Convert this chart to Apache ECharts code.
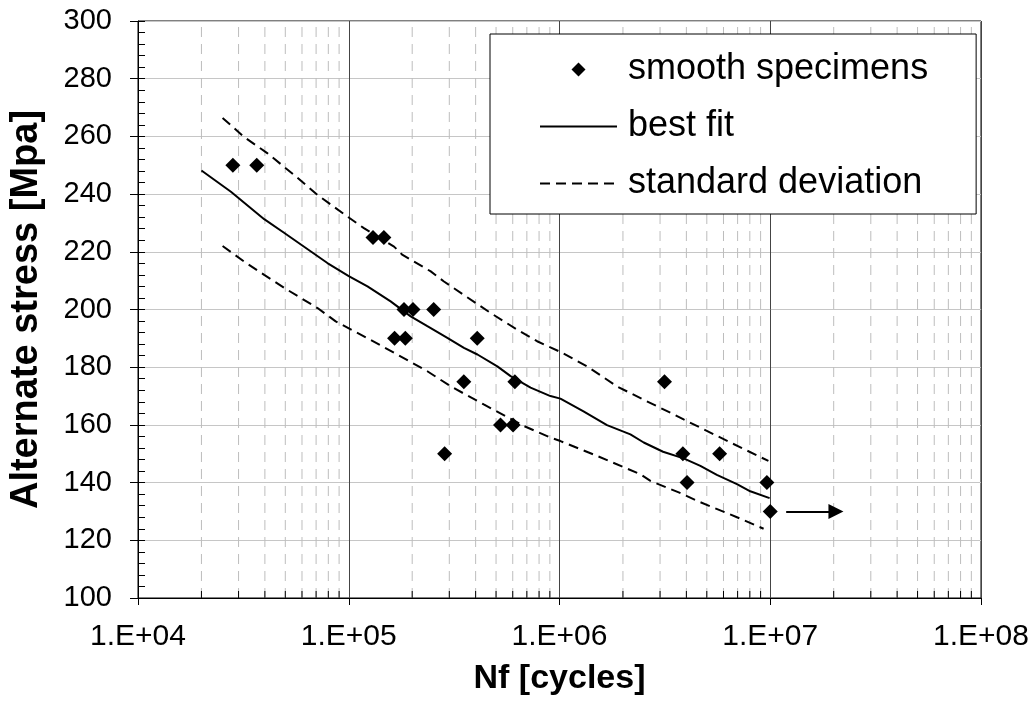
<!DOCTYPE html>
<html>
<head>
<meta charset="utf-8">
<script src="https://cdn.jsdelivr.net/npm/echarts@6/dist/echarts.min.js"></script>
<style>
  html, body { margin: 0; padding: 0; background: #fff; }
  #chart { width: 1033px; height: 701px; }
</style>
</head>
<body>
<div id="chart"></div>
<script>
// ---- data ----
const xTickLabels = ['1.E+04', '1.E+05', '1.E+06', '1.E+07', '1.E+08'];
const yTickValues = [100, 120, 140, 160, 180, 200, 220, 240, 260, 280, 300];

const smoothN = [28200, 36600, 130300, 146800, 182900, 201800, 252900, 165000, 185500, 407000,
                 351500, 614000, 3150000, 525000, 602000, 285000, 3850000, 5750000, 4030000, 9640000, 10000000];
const smoothS = [250, 250, 225, 225, 200, 200, 200, 190, 190, 190,
                 175, 175, 175, 160, 160, 150, 150, 150, 140, 140, 130];

const fitN = [20000, 27600, 39700, 49300, 79200, 100000, 122700, 158000, 196700, 236000,
              293600, 352000, 408000, 507000, 586000, 729000, 906000, 1010000, 1300000, 1680000,
              2170000, 2510000, 3100000, 3880000, 4660000, 5580000, 6950000, 8040000, 9930000];
const fitS = [248.2, 240.8, 231.3, 226.6, 216.1, 211.6, 208, 202.8, 197.6, 194.2,
              190.2, 186.7, 184.4, 180.3, 176.9, 172.9, 170, 169.1, 164.7, 159.9,
              156.7, 153.9, 150.7, 148.4, 145.8, 142.7, 139.5, 137, 134.6];

const upN = [25200, 31900, 41200, 55100, 71100, 98600, 118000, 164000, 180000, 245000,
             283000, 352000, 471000, 630000, 783000, 1010000, 1350000, 1880000, 2510000, 3360000,
             3880000, 6470000, 9800000];
const upS = [266.4, 259.8, 254.1, 246.6, 239.7, 232.2, 228.2, 221.8, 218.9, 213.2,
             209.7, 205, 198.8, 193, 189, 185.3, 180.3, 173.3, 168.7, 164.2,
             161.9, 153.9, 147.5];

const loN = [25200, 31900, 39700, 51200, 71100, 86700, 118000, 170000, 236000, 304000,
             437000, 678000, 906000, 1010000, 1480000, 2420000, 2700000, 3680000, 4660000, 6950000, 9300000];
const loS = [222, 216.6, 212, 206.8, 200.5, 195.9, 190.7, 184.4, 178.6, 173.4,
             167.1, 159.6, 155.6, 154.4, 149.5, 142.9, 140.6, 136.6, 133.2, 128, 124];

const arrowN = [11900000, 20500000];
const arrowS = [130, 130];

const minorDecades = [1e4, 1e5, 1e6, 1e7];
const minorMultipliers = [2, 3, 4, 5, 6, 7, 8, 9];

// ---- build ----
const FONT = 'Liberation Sans, Arial, sans-serif';
const zip = (a, b) => a.map((v, i) => [v, b[i]]);
const minorX = [];
minorDecades.forEach(d => minorMultipliers.forEach(m => minorX.push([d * m, 100])));

// small diamond centred in a 77x14 legend box (moveTo points keep the box size)
const legendDiamond = 'path://M0,0 M77,14 M31.5,7 L38.5,0 L45.5,7 L38.5,14 Z';

const chart = echarts.init(document.getElementById('chart'), null, { renderer: 'canvas' });

const option = {
  animation: false,
  backgroundColor: '#fff',
  grid: { left: 137, right: 52, top: 21, bottom: 101, show: true, borderColor: '#000', borderWidth: 1, containLabel: false },
  legend: {
    orient: 'vertical',
    left: 490, top: 34,
    padding: [15, 48, 10, 49],
    backgroundColor: '#fff',
    borderColor: '#000', borderWidth: 1,
    itemWidth: 77, itemHeight: 14, itemGap: 16,
    textStyle: { fontFamily: FONT, fontSize: 36, color: '#000', lineHeight: 41, padding: [0, 0, 0, 6] },
    data: [
      { name: 'smooth specimens', icon: legendDiamond, itemStyle: { color: '#000', opacity: 1 } },
      { name: 'best fit', itemStyle: { opacity: 0 } },
      { name: 'standard deviation', itemStyle: { opacity: 0 } }
    ]
  },
  xAxis: {
    type: 'log', logBase: 10, min: 1e4, max: 1e8,
    name: 'Nf [cycles]', nameLocation: 'middle', nameGap: 64,
    nameTextStyle: { fontFamily: FONT, fontSize: 34, fontWeight: 'bold', color: '#000' },
    axisLine: { show: true, lineStyle: { color: '#000', width: 1 } },
    axisTick: { show: true, inside: false, length: 7, lineStyle: { color: '#000' } },
    axisLabel: { fontFamily: FONT, fontSize: 30, color: '#000', margin: 24,
      formatter: v => xTickLabels[Math.round(Math.log10(v)) - 4] },
    splitLine: { show: true, lineStyle: { color: '#444', width: 1 } }
  },
  yAxis: [{
    type: 'value', min: 100, max: 300, interval: 20,
    name: 'Alternate stress [Mpa]', nameLocation: 'middle', nameGap: 92,
    nameTextStyle: { fontFamily: FONT, fontSize: 38, fontWeight: 'bold', color: '#000' },
    axisLine: { show: true, lineStyle: { color: '#000', width: 1 } },
    axisTick: { show: true, inside: false, length: 8, lineStyle: { color: '#000' } },
    axisLabel: { fontFamily: FONT, fontSize: 29, color: '#000', margin: 26,
      formatter: v => (yTickValues.indexOf(v) >= 0 ? String(v) : '') },
    splitLine: { show: true, lineStyle: { color: '#c6c6c6', width: 1 } }
  }, {
    type: 'value', min: 100, max: 300, interval: 20, position: 'left',
    axisLine: { show: false },
    axisTick: { show: true, inside: true, length: 7, lineStyle: { color: '#000' } },
    minorTick: { show: true, splitNumber: 5, length: 7, lineStyle: { color: '#000' } },
    axisLabel: { show: false },
    splitLine: { show: false }
  }],
  series: [
    {
      type: 'custom',
      name: 'minor',
      silent: true,
      z: 1,
      data: minorX,
      renderItem: (params, api) => {
        const v = api.value(0);
        const p0 = api.coord([v, 100]);
        const p1 = api.coord([v, 300]);
        return {
          type: 'group',
          children: [
            { type: 'line', shape: { x1: p0[0], y1: p0[1], x2: p1[0], y2: p1[1] },
              style: { stroke: '#bdbdbd', lineWidth: 1, lineDash: [10, 7] } },
            { type: 'line', shape: { x1: p0[0], y1: p0[1], x2: p0[0], y2: p0[1] - 7 },
              style: { stroke: '#000', lineWidth: 1 } }
          ]
        };
      }
    },
    {
      type: 'line', name: 'best fit', data: zip(fitN, fitS),
      symbol: 'none', z: 3,
      lineStyle: { color: '#000', width: 2, type: 'solid' },
      itemStyle: { color: '#000' }
    },
    {
      type: 'line', name: 'standard deviation', data: zip(upN, upS),
      symbol: 'none', z: 3,
      lineStyle: { color: '#000', width: 2, type: [10, 6] },
      itemStyle: { color: '#000' }
    },
    {
      type: 'line', name: 'standard deviation', data: zip(loN, loS),
      symbol: 'none', z: 3,
      lineStyle: { color: '#000', width: 2, type: [10, 6] },
      itemStyle: { color: '#000' }
    },
    {
      type: 'scatter', name: 'smooth specimens', data: zip(smoothN, smoothS),
      symbol: 'diamond', symbolSize: 15, z: 4,
      itemStyle: { color: '#000', opacity: 1 },
      markLine: {
        silent: true,
        symbol: ['none', 'triangle'],
        symbolSize: [15, 15],
        label: { show: false },
        lineStyle: { color: '#000', width: 2, type: 'solid' },
        data: [[{ coord: [arrowN[0], arrowS[0]] }, { coord: [arrowN[1], arrowS[1]] }]]
      }
    }
  ]
};
chart.setOption(option);
</script>
</body>
</html>
